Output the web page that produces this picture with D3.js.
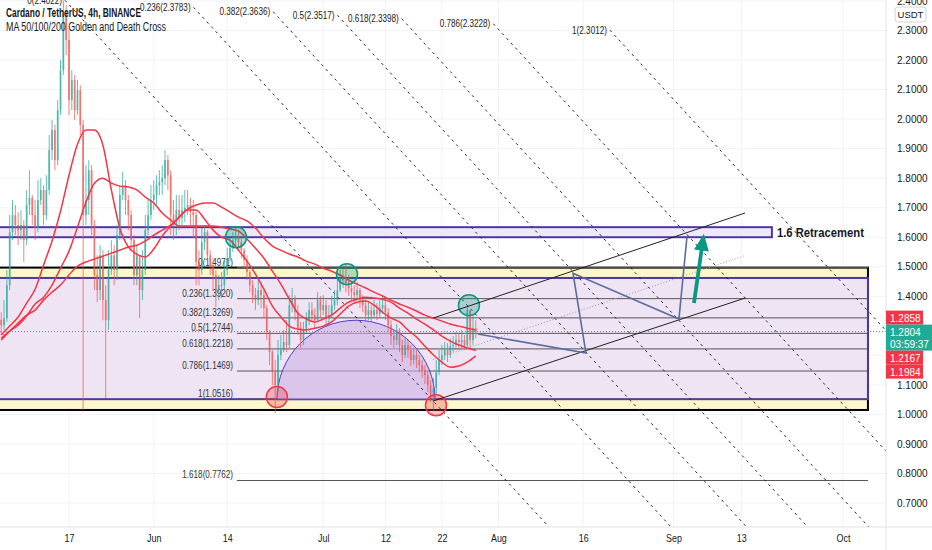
<!DOCTYPE html>
<html>
<head>
<meta charset="utf-8">
<script src="https://cdn.jsdelivr.net/npm/d3@7"></script>
<style>
body { margin: 0; background: #fff; }
svg { display: block; font-family: "Liberation Sans", Arial, sans-serif; }
</style>
</head>
<body>
<div id="app"></div>
<script>
// ---- data (ADA/USDT, 12h candles) ----
const candleStart = "2021-05-05T00:00"
const candleHours = 12
const firstOpen = 1.32

const candleClose = [
  1.302,1.326,1.438,1.617,1.675,1.641,1.624,1.641,1.590,1.709,
  1.733,1.675,1.631,1.726,1.760,1.675,1.760,1.895,1.963,1.861,
  2.030,2.166,2.352,2.268,2.064,2.132,2.030,2.098,1.980,1.675,
  1.726,1.827,1.641,1.472,1.421,1.539,1.387,1.319,1.489,1.539,
  1.489,1.607,1.743,1.776,1.726,1.675,1.590,1.472,1.539,1.421,
  1.489,1.624,1.675,1.726,1.743,1.776,1.787,1.800,1.861,1.810,
  1.675,1.641,1.692,1.665,1.692,1.699,1.709,1.685,1.675,1.516,
  1.489,1.583,1.617,1.539,1.506,1.472,1.421,1.438,1.438,1.489,
  1.529,1.563,1.590,1.600,1.583,1.556,1.523,1.482,1.438,1.404,
  1.387,1.421,1.404,1.360,1.279,1.211,1.143,1.099,1.201,1.218,
  1.245,1.235,1.370,1.394,1.346,1.292,1.252,1.286,1.319,1.353,
  1.336,1.319,1.387,1.353,1.370,1.326,1.336,1.370,1.387,1.421,
  1.462,1.455,1.445,1.428,1.414,1.404,1.421,1.387,1.370,1.336,
  1.353,1.336,1.353,1.340,1.360,1.370,1.346,1.302,1.265,1.252,
  1.286,1.235,1.201,1.235,1.218,1.184,1.201,1.184,1.167,1.150,
  1.133,1.099,1.065,1.089,1.143,1.184,1.201,1.218,1.201,1.231,
  1.235,1.252,1.245,1.252,1.235,1.353,1.252,1.292,1.2804
]
const candleHigh = [
  1.346,1.387,1.489,1.675,1.726,1.709,1.685,1.692,1.658,1.760,
  1.827,1.743,1.726,1.793,1.800,1.776,1.810,1.946,1.997,1.980,
  2.064,2.200,2.402,2.386,2.301,2.166,2.149,2.132,2.115,1.997,
  1.844,1.861,1.844,1.658,1.539,1.573,1.556,1.438,1.556,1.590,
  1.573,1.641,1.776,1.821,1.793,1.743,1.692,1.607,1.573,1.539,
  1.556,1.675,1.726,1.776,1.793,1.810,1.827,1.844,1.895,1.878,
  1.827,1.726,1.743,1.743,1.743,1.760,1.760,1.733,1.726,1.692,
  1.556,1.631,1.641,1.624,1.556,1.529,1.489,1.472,1.482,1.523,
  1.563,1.597,1.617,1.638,1.624,1.597,1.563,1.539,1.489,1.455,
  1.428,1.455,1.448,1.421,1.370,1.286,1.218,1.184,1.252,1.269,
  1.286,1.319,1.404,1.428,1.404,1.370,1.313,1.313,1.346,1.380,
  1.380,1.360,1.414,1.401,1.404,1.387,1.370,1.401,1.421,1.455,
  1.489,1.495,1.512,1.472,1.448,1.438,1.448,1.428,1.404,1.387,
  1.380,1.370,1.387,1.377,1.387,1.401,1.387,1.360,1.319,1.286,
  1.306,1.292,1.252,1.258,1.252,1.235,1.225,1.218,1.201,1.184,
  1.167,1.150,1.116,1.123,1.184,1.218,1.235,1.245,1.241,1.258,
  1.265,1.279,1.272,1.286,1.269,1.370,1.346,1.336,1.319
]
const candleLow = [
  1.269,1.286,1.313,1.421,1.590,1.607,1.573,1.590,1.516,1.573,
  1.675,1.641,1.590,1.617,1.709,1.641,1.658,1.743,1.861,1.827,
  1.844,2.014,2.149,2.217,2.014,2.030,1.997,2.014,1.946,1.015,
  1.641,1.675,1.607,1.421,1.380,1.387,1.319,1.055,1.286,1.472,
  1.438,1.455,1.590,1.726,1.675,1.624,1.556,1.438,1.438,1.326,
  1.387,1.472,1.607,1.658,1.692,1.709,1.743,1.743,1.776,1.760,
  1.607,1.590,1.607,1.624,1.641,1.651,1.675,1.641,1.597,1.438,
  1.438,1.472,1.556,1.516,1.472,1.421,1.363,1.387,1.394,1.421,
  1.472,1.516,1.550,1.570,1.556,1.529,1.495,1.455,1.414,1.377,
  1.353,1.370,1.360,1.326,1.252,1.167,1.099,1.004,1.076,1.184,
  1.211,1.211,1.225,1.346,1.319,1.269,1.225,1.235,1.275,1.302,
  1.313,1.292,1.313,1.326,1.336,1.302,1.302,1.326,1.353,1.370,
  1.414,1.428,1.414,1.401,1.387,1.377,1.387,1.360,1.346,1.313,
  1.319,1.313,1.326,1.319,1.326,1.340,1.319,1.279,1.235,1.225,
  1.235,1.211,1.177,1.191,1.191,1.164,1.170,1.157,1.143,1.123,
  1.103,1.076,1.042,1.015,1.065,1.133,1.167,1.184,1.177,1.191,
  1.211,1.218,1.218,1.225,1.218,1.225,1.225,1.235,1.258
]

// moving averages, one value every 3rd candle
const maEvery = 3
const ma50 = [
  1.269,1.299,1.330,1.377,1.424,1.506,1.587,1.688,1.810,1.915,
  1.963,1.963,1.912,1.760,1.631,1.567,1.543,1.533,1.560,1.604,
  1.638,1.668,1.692,1.692,1.661,1.624,1.600,1.590,1.556,1.519,
  1.475,1.424,1.367,1.330,1.299,1.289,1.286,1.292,1.299,1.313,
  1.340,1.367,1.380,1.384,1.370,1.346,1.326,1.313,1.286,1.262,
  1.231,1.201,1.177,1.160,1.164,1.177,1.1984
]
const ma100 = [
  1.258,1.282,1.302,1.333,1.374,1.397,1.438,1.495,1.553,1.634,
  1.719,1.783,1.800,1.783,1.773,1.770,1.760,1.736,1.716,1.682,
  1.658,1.638,1.638,1.638,1.638,1.638,1.634,1.628,1.621,1.594,
  1.563,1.529,1.485,1.441,1.390,1.343,1.323,1.313,1.323,1.336,
  1.360,1.380,1.390,1.397,1.394,1.390,1.380,1.360,1.343,1.323,
  1.306,1.286,1.265,1.248,1.235,1.225,1.2167
]
const ma200 = [
  1.252,1.282,1.309,1.336,1.353,1.387,1.414,1.438,1.472,1.502,
  1.516,1.526,1.536,1.546,1.556,1.567,1.573,1.587,1.607,1.624,
  1.641,1.668,1.695,1.709,1.716,1.716,1.702,1.685,1.668,1.655,
  1.631,1.597,1.570,1.556,1.543,1.533,1.519,1.509,1.495,1.485,
  1.472,1.455,1.441,1.428,1.414,1.401,1.387,1.374,1.363,1.350,
  1.336,1.326,1.316,1.306,1.299,1.292,1.2858
]

// axis ticks
const priceTicks = [2.4,2.3,2.2,2.1,2.0,1.9,1.8,1.7,1.6,1.5,1.4,1.3,1.2,1.1,1.0,0.9,0.8,0.7]
const timeTicks = ["2021-05-17","2021-06-01","2021-06-14","2021-07-01","2021-07-12","2021-07-22","2021-08-01","2021-08-16","2021-09-01","2021-09-13","2021-10-01"]
const timeLabels = ["17","Jun","14","Jul","12","22","Aug","16","Sep","13","Oct"]

// fib channel (dashed diagonals)
const fibChanLevels = [0,0.236,0.382,0.5,0.618,0.786,1]
const fibChanPrices = [2.4022,2.3783,2.3636,2.3517,2.3398,2.3228,2.3012]
const fibChanStart = ["2021-05-16T07:00","2021-08-20T18:00"]
const fibChanThroughDate = "2021-07-20T23:00"
const fibChanThroughPrice = 1.035

// fib retracement
const fibLevels = [0,0.236,0.382,0.5,0.618,0.786,1,1.618]
const fibPrices = [1.4971,1.3920,1.3269,1.2744,1.2218,1.1469,1.0516,0.7762]
const fibRange = ["2021-06-15T17:30","2021-10-05T10:00"]

// zones
const zoneRange = ["2021-04-20T00:00","2021-10-05T10:00"]
const yellowZone = [1.4971,1.015]
const purpleZone = [1.462,1.0516]
const retraceZoneRange = ["2021-04-20T00:00","2021-09-18T10:00"]
const retraceZone = [1.634,1.600]
const retraceLabel = "1.6 Retracement"

// arc
const arcDates = ["2021-06-22T19:30","2021-07-20T19:00"]
const arcBase = 1.05
const arcTop = 1.319

// circles
const circleDates = ["2021-06-15T13:30","2021-07-05T05:00","2021-07-26T19:00","2021-06-22T19:00","2021-07-20T23:00"]
const circlePrices = [1.600,1.475,1.370,1.059,1.031]
const circleKinds = ["up","up","up","down","down"]

// parallel channel
const chanDates = ["2021-07-20T10:00","2021-09-13T16:00"]
const chanUpper = [1.326,1.682]
const chanLower = [1.045,1.394]

// projection path + arrow
const projDates = ["2021-07-28T09:00","2021-08-16T12:00","2021-08-14T05:00","2021-09-01T23:00","2021-09-03T09:00"]
const projPrices = [1.272,1.208,1.478,1.323,1.600]
const arrowDates = ["2021-09-04T15:00","2021-09-06T09:00"]
const arrowPrices = [1.377,1.612]

// last values shown on the price scale
const tagValues = [1.2858,1.2804,1.2167,1.1984]
const tagKinds = ["ma","last","ma","ma"]
const countdown = "03:59:37"

// ---- chart ----
const W = 932, H = 550
const plotR = 886, plotB = 527
const parseDT = d3.timeParse("%Y-%m-%dT%H:%M")
const parseD = d3.timeParse("%Y-%m-%d")

const x = d3.scaleTime()
    .domain([parseD("2021-05-17"), parseD("2021-10-01")])
    .range([69, 843])
const y = d3.scaleLinear()
    .domain([2.3, 0.7])
    .range([30.5, 503])

const t0 = parseDT(candleStart)
const dateAt = i => d3.timeHour.offset(t0, i * candleHours)

const UP = "#26a69a", DOWN = "#ef5350", MA = "#f23645"

const svg = d3.select("#app").append("svg")
    .attr("width", W)
    .attr("height", H)

svg.append("defs").append("clipPath").attr("id", "plot")
    .append("rect").attr("x", 0).attr("y", 0).attr("width", plotR).attr("height", plotB)

const plot = svg.append("g").attr("clip-path", "url(#plot)")

function condense(sel, k) {
    sel.each(function () {
        const w = this.getComputedTextLength()
        d3.select(this).attr("textLength", w * k).attr("lengthAdjust", "spacingAndGlyphs")
    })
}

// grid
plot.append("g").selectAll("line")
    .data(priceTicks)
    .join("line")
    .attr("x1", 0).attr("x2", plotR)
    .attr("y1", d => y(d)).attr("y2", d => y(d))
    .attr("stroke", "#f0f3fa")
plot.append("g").selectAll("line")
    .data(timeTicks)
    .join("line")
    .attr("x1", d => x(parseD(d))).attr("x2", d => x(parseD(d)))
    .attr("y1", 0).attr("y2", plotB)
    .attr("stroke", "#f0f3fa")

// zones
const zx0 = x(parseDT(zoneRange[0])), zx1 = x(parseDT(zoneRange[1]))
plot.append("rect")
    .attr("x", zx0).attr("y", y(yellowZone[0]))
    .attr("width", zx1 - zx0).attr("height", y(yellowZone[1]) - y(yellowZone[0]))
    .attr("fill", "#fcf6cc").attr("stroke", "#000").attr("stroke-width", 2)
plot.append("rect")
    .attr("x", zx0).attr("y", y(purpleZone[0]))
    .attr("width", zx1 - zx0).attr("height", y(purpleZone[1]) - y(purpleZone[0]))
    .attr("fill", "#efe4f4").attr("stroke", "#4b37a8").attr("stroke-width", 2)
const rx0 = x(parseDT(retraceZoneRange[0])), rx1 = x(parseDT(retraceZoneRange[1]))
plot.append("rect")
    .attr("x", rx0).attr("y", y(retraceZone[0]))
    .attr("width", rx1 - rx0).attr("height", y(retraceZone[1]) - y(retraceZone[0]))
    .attr("fill", "#f1e8f6").attr("stroke", "#4b37a8").attr("stroke-width", 2)
svg.append("text")
    .attr("x", rx1 + 5).attr("y", (y(retraceZone[0]) + y(retraceZone[1])) / 2 + 4.5)
    .attr("font-size", 13).attr("font-weight", "bold").attr("fill", "#131722")
    .attr("textLength", 87).attr("lengthAdjust", "spacingAndGlyphs")
    .text(retraceLabel)

// fib retracement
const fx0 = x(parseDT(fibRange[0])), fx1 = x(parseDT(fibRange[1]))
const fib = plot.append("g")
fib.selectAll("line")
    .data(fibPrices)
    .join("line")
    .attr("x1", fx0).attr("x2", fx1)
    .attr("y1", d => y(d)).attr("y2", d => y(d))
    .attr("stroke", "#555").attr("stroke-width", 1)
fib.selectAll("text")
    .data(fibPrices)
    .join("text")
    .attr("x", fx0 - 4).attr("y", d => y(d) - 2)
    .attr("text-anchor", "end")
    .attr("font-size", 11).attr("fill", "#333")
    .text((d, i) => `${fibLevels[i]}(${d.toFixed(4)})`)
    .call(condense, 0.74)

// arc
const ax0 = x(parseDT(arcDates[0])), ax1 = x(parseDT(arcDates[1]))
const ayb = y(arcBase), ayt = y(arcTop)
plot.append("path")
    .attr("d", `M${ax0},${ayb} A${(ax1 - ax0) / 2},${ayb - ayt} 0 0 1 ${ax1},${ayb} Z`)
    .attr("fill", "#cfb0e4").attr("fill-opacity", 0.6)
    .attr("stroke", "#4c3fd0").attr("stroke-width", 1)

// fib channel diagonals
const c0 = parseDT(fibChanStart[0]), c1 = parseDT(fibChanStart[1])
const dtMs = parseDT(fibChanThroughDate) - c0
const dp = fibChanThroughPrice - fibChanPrices[0]
const chan = fibChanLevels.map((f, i) => {
    const sd = new Date(+c0 + f * (c1 - c0))
    return {
        f, p: fibChanPrices[i],
        x1: x(sd), y1: y(fibChanPrices[i]),
        x2: x(new Date(+sd + 3 * dtMs)), y2: y(fibChanPrices[i] + 3 * dp)
    }
})
plot.append("g").selectAll("line")
    .data(chan)
    .join("line")
    .attr("x1", d => d.x1).attr("y1", d => d.y1)
    .attr("x2", d => d.x2).attr("y2", d => d.y2)
    .attr("stroke", "#222").attr("stroke-width", 1)
    .attr("stroke-dasharray", "2.5,4")
svg.append("g").selectAll("text")
    .data(chan)
    .join("text")
    .attr("x", d => d.x1 - 3).attr("y", d => d.y1 + 3.5)
    .attr("text-anchor", "end")
    .attr("font-size", 11).attr("fill", "#222")
    .text(d => `${d.f}(${d.p.toFixed(4)})`)
    .call(condense, 0.74)

// candles
const candles = candleClose.map((c, i) => {
    const o = i ? candleClose[i - 1] : firstOpen
    return {
        t: dateAt(i), o, c,
        h: Math.max(candleHigh[i], o, c),
        l: Math.min(candleLow[i], o, c)
    }
})
const bw = (x(dateAt(1)) - x(dateAt(0))) * 0.6
const cg = plot.append("g").attr("opacity", 0.8)
cg.selectAll("line")
    .data(candles)
    .join("line")
    .attr("x1", d => x(d.t)).attr("x2", d => x(d.t))
    .attr("y1", d => y(d.h)).attr("y2", d => y(d.l))
    .attr("stroke", d => d.c >= d.o ? UP : DOWN)
    .attr("stroke-width", 0.9)
cg.selectAll("rect")
    .data(candles)
    .join("rect")
    .attr("x", d => x(d.t) - bw / 2)
    .attr("width", bw)
    .attr("y", d => y(Math.max(d.o, d.c)))
    .attr("height", d => Math.max(1, Math.abs(y(d.o) - y(d.c))))
    .attr("fill", d => d.c >= d.o ? UP : DOWN)

// moving averages
const maLine = d3.line()
    .x((d, k) => x(dateAt(k * maEvery)))
    .y(d => y(d))
    .curve(d3.curveMonotoneX)
plot.append("g").selectAll("path")
    .data([ma200, ma100, ma50])
    .join("path")
    .attr("d", maLine)
    .attr("fill", "none")
    .attr("stroke", MA)
    .attr("stroke-width", 1.5)

// circles
plot.append("g").selectAll("circle")
    .data(circleDates)
    .join("circle")
    .attr("cx", d => x(parseDT(d)))
    .attr("cy", (d, i) => y(circlePrices[i]))
    .attr("r", 10.5)
    .attr("fill", (d, i) => circleKinds[i] === "up" ? "rgba(8,153,129,0.3)" : "rgba(242,54,69,0.3)")
    .attr("stroke", (d, i) => circleKinds[i] === "up" ? "#089981" : "#f23645")
    .attr("stroke-width", 1.5)

// parallel channel
const chx0 = x(parseDT(chanDates[0])), chx1 = x(parseDT(chanDates[1]))
plot.append("line")
    .attr("x1", chx0).attr("y1", y(chanUpper[0])).attr("x2", chx1).attr("y2", y(chanUpper[1]))
    .attr("stroke", "#222").attr("stroke-width", 1)
plot.append("line")
    .attr("x1", chx0).attr("y1", y(chanLower[0])).attr("x2", chx1).attr("y2", y(chanLower[1]))
    .attr("stroke", "#222").attr("stroke-width", 1)
plot.append("line")
    .attr("x1", chx0).attr("y1", y((chanUpper[0] + chanLower[0]) / 2))
    .attr("x2", chx1).attr("y2", y((chanUpper[1] + chanLower[1]) / 2))
    .attr("stroke", "#999").attr("stroke-width", 1).attr("stroke-dasharray", "1,2")

// projection path
plot.append("path")
    .datum(projDates)
    .attr("d", d3.line().x(d => x(parseDT(d))).y((d, i) => y(projPrices[i])))
    .attr("fill", "none")
    .attr("stroke", "#5b6c9e")
    .attr("stroke-width", 1.6)

// arrow
{
    const p1 = [x(parseDT(arrowDates[0])), y(arrowPrices[0])]
    const p2 = [x(parseDT(arrowDates[1])), y(arrowPrices[1])]
    const len = Math.hypot(p2[0] - p1[0], p2[1] - p1[1])
    const u = [(p2[0] - p1[0]) / len, (p2[1] - p1[1]) / len]
    const n = [-u[1], u[0]]
    const hl = 17, hw = 7.5, sw = 1.9
    const b = [p2[0] - u[0] * hl, p2[1] - u[1] * hl]
    const pts = [
        [p1[0] + n[0] * sw, p1[1] + n[1] * sw],
        [b[0] + n[0] * sw, b[1] + n[1] * sw],
        [b[0] + n[0] * hw, b[1] + n[1] * hw],
        p2,
        [b[0] - n[0] * hw, b[1] - n[1] * hw],
        [b[0] - n[0] * sw, b[1] - n[1] * sw],
        [p1[0] - n[0] * sw, p1[1] - n[1] * sw]
    ]
    plot.append("polygon")
        .attr("points", pts.map(p => p.join(",")).join(" "))
        .attr("fill", "#089981")
}

// last price line
const lastPrice = tagValues[tagKinds.indexOf("last")]
svg.append("line")
    .attr("x1", 0).attr("x2", plotR)
    .attr("y1", y(lastPrice)).attr("y2", y(lastPrice))
    .attr("stroke", "#26a69a").attr("stroke-width", 1)
    .attr("stroke-dasharray", "1,2")

// header
svg.append("text")
    .attr("x", 6).attr("y", 17)
    .attr("font-size", 12).attr("font-weight", "bold").attr("fill", "#131722")
    .attr("textLength", 135).attr("lengthAdjust", "spacingAndGlyphs")
    .text("Cardano / TetherUS, 4h, BINANCE")
svg.append("text")
    .attr("x", 6).attr("y", 31)
    .attr("font-size", 12).attr("fill", "#131722")
    .attr("textLength", 160).attr("lengthAdjust", "spacingAndGlyphs")
    .text("MA 50/100/200 Golden and Death Cross")

// axes frame
svg.append("line").attr("x1", plotR).attr("x2", plotR).attr("y1", 0).attr("y2", H).attr("stroke", "#e0e3eb")
svg.append("line").attr("x1", 0).attr("x2", W).attr("y1", plotB).attr("y2", plotB).attr("stroke", "#e0e3eb")

// price tags, stacked around the last price
const li = tagKinds.indexOf("last")
const tagH = tagKinds.map(k => k === "last" ? 26 : 14)
const tagTop = []
tagTop[li] = y(tagValues[li]) - 7
for (let i = li - 1; i >= 0; i--) tagTop[i] = Math.min(y(tagValues[i]) - 7, tagTop[i + 1] - tagH[i])
for (let i = li + 1; i < tagValues.length; i++) tagTop[i] = Math.max(y(tagValues[i]) - 7, tagTop[i - 1] + tagH[i - 1])
const tagSpan = [d3.min(tagTop), d3.max(tagTop.map((t, i) => t + tagH[i]))]

// price axis: labels hidden under the tags are left out
const shownTicks = priceTicks.filter(v => y(v) + 5 < tagSpan[0] || y(v) - 5 > tagSpan[1])
const yAxis = svg.append("g")
    .attr("transform", `translate(${plotR},0)`)
    .call(d3.axisRight(y).tickValues(shownTicks).tickFormat(d3.format(".4f")).tickSize(0).tickPadding(11))
yAxis.select(".domain").remove()
yAxis.selectAll("text").attr("font-size", 10).attr("fill", "#131722").attr("font-family", "Liberation Sans, Arial, sans-serif")

const xAxis = svg.append("g")
    .attr("transform", `translate(0,${plotB})`)
    .call(d3.axisBottom(x).tickValues(timeTicks.map(parseD)).tickFormat((d, i) => timeLabels[i]).tickSize(0).tickPadding(8))
xAxis.select(".domain").remove()
xAxis.selectAll("text").attr("font-size", 10.5).attr("fill", "#131722").attr("font-family", "Liberation Sans, Arial, sans-serif")
    .call(condense, 0.85)

// USDT badge
svg.append("rect").attr("x", 895).attr("y", 7).attr("width", 31).attr("height", 15).attr("rx", 3)
    .attr("fill", "#fff").attr("stroke", "#d1d4dc")
svg.append("text").attr("x", 910.5).attr("y", 18).attr("text-anchor", "middle")
    .attr("font-size", 9.5).attr("fill", "#131722").text("USDT")

const tg = svg.append("g")
tagValues.forEach((v, i) => {
    const last = tagKinds[i] === "last"
    tg.append("rect")
        .attr("x", plotR).attr("y", tagTop[i])
        .attr("width", last ? 46 : 37).attr("height", tagH[i])
        .attr("fill", last ? "#22ab94" : "#f23645")
    tg.append("text")
        .attr("x", plotR + 4).attr("y", tagTop[i] + 11)
        .attr("font-size", 10).attr("fill", "#fff")
        .text(d3.format(".4f")(v))
    if (last) tg.append("text")
        .attr("x", plotR + 4).attr("y", tagTop[i] + 23)
        .attr("font-size", 10).attr("fill", "#fff")
        .text(countdown)
})
</script>
</body>
</html>
